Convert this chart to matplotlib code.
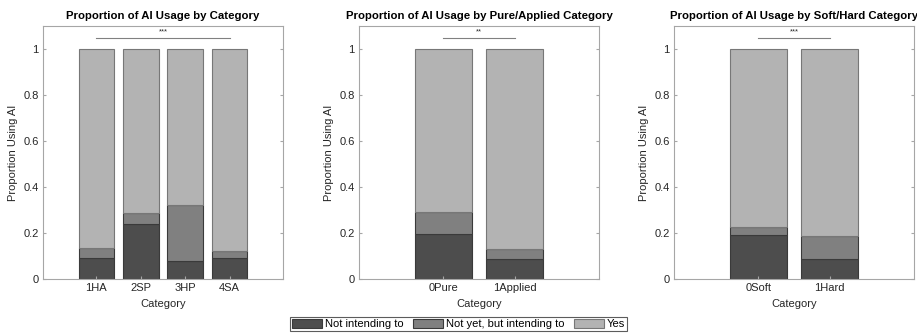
import numpy as np
import matplotlib
matplotlib.use("Agg")
import matplotlib.pyplot as plt
from matplotlib.ticker import FuncFormatter

plt.rcParams["font.family"] = ["Liberation Sans", "DejaVu Sans"]

# data
cats1 = ["1HA", "2SP", "3HP", "4SA"]
not_int1 = [0.09, 0.24, 0.08, 0.09]
not_yet1 = [0.045, 0.045, 0.24, 0.03]

cats2 = ["0Pure", "1Applied"]
not_int2 = [0.197, 0.088]
not_yet2 = [0.096, 0.042]

cats3 = ["0Soft", "1Hard"]
not_int3 = [0.19, 0.088]
not_yet3 = [0.038, 0.099]

titles = ["Proportion of AI Usage by Category",
          "Proportion of AI Usage by Pure/Applied Category",
          "Proportion of AI Usage by Soft/Hard Category"]
stars = ["***", "**", "***"]
labels = ["Not intending to", "Not yet, but intending to", "Yes"]
colors = ["#4d4d4d", "#808080", "#b3b3b3"]
edge = "#3a3a3a"
spine = "#a6a6a6"
txt = "#262626"
fs = 8

fig = plt.figure(figsize=(9.17, 3.33), dpi=100)
W, H = 917, 333
lefts = [43, 359, 674]
axw = 240
bot, top = 279, 26

panels = [(cats1, not_int1, not_yet1), (cats2, not_int2, not_yet2), (cats3, not_int3, not_yet3)]
handles = None
for i, (cats, a, b) in enumerate(panels):
    ax = fig.add_axes([lefts[i] / W, (H - bot) / H, axw / W, (bot - top) / H])
    x = np.arange(1, len(cats) + 1)
    a = np.array(a)
    b = np.array(b)
    c = 1 - a - b
    h1 = ax.bar(x, a, 0.8, color=colors[0], edgecolor=edge, linewidth=0.8)
    h2 = ax.bar(x, b, 0.8, bottom=a, color=colors[1], edgecolor=edge, linewidth=0.8)
    h3 = ax.bar(x, c, 0.8, bottom=a + b, color=colors[2], edgecolor="#777777", linewidth=0.8)
    handles = [h1, h2, h3]
    if len(cats) == 4:
        ax.set_xlim(-0.2, 5.2)
    else:
        ax.set_xlim(1 - 1.19, 2 + 1.19)
    ax.set_ylim(0, 1.1)
    ax.set_yticks([0, 0.2, 0.4, 0.6, 0.8, 1])
    ax.yaxis.set_major_formatter(FuncFormatter(lambda v, p: "%g" % round(v, 2)))
    ax.set_xticks(x)
    ax.set_xticklabels(cats)
    ax.tick_params(direction="in", length=2.5, color=spine, labelcolor=txt, labelsize=fs,
                   right=True, top=False, pad=3)
    for s in ax.spines.values():
        s.set_color(spine)
        s.set_linewidth(0.8)
    ax.set_title(titles[i], fontsize=8.2, fontweight="bold", pad=5, color="black")
    ax.set_ylabel("Proportion Using AI", fontsize=fs, color=txt, labelpad=4)
    ax.set_xlabel("Category", fontsize=fs, color=txt, labelpad=4)
    ax.plot([x[0], x[-1]], [1.05, 1.05], color="#808080", linewidth=0.8)
    ax.text((x[0] + x[-1]) / 2, 1.058, stars[i], ha="center", va="bottom", fontsize=5.5, color=txt)

leg = fig.legend(handles, labels, loc="lower center", bbox_to_anchor=(0.5, 0.0), ncol=3,
                 frameon=True, fancybox=False, fontsize=fs, handlelength=2.7, handleheight=0.8,
                 handletextpad=0.2, columnspacing=0.9, borderpad=0.2, borderaxespad=0.15)
leg.get_frame().set_edgecolor("#333333")
leg.get_frame().set_linewidth(0.8)

fig.savefig("out.png", dpi=100)
